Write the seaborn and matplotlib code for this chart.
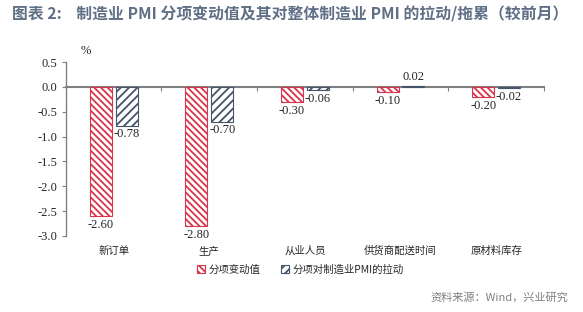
import matplotlib
matplotlib.use("Agg")
import matplotlib.pyplot as plt
import seaborn as sns
import pandas as pd
from matplotlib.patches import Patch

categories = ["新订单", "生产", "从业人员", "供货商配送时间", "原材料库存"]
series_names = ["分项变动值", "分项对制造业PMI的拉动"]
change_values = [-2.60, -2.80, -0.30, -0.10, -0.20]
pull_values = [-0.78, -0.70, -0.06, 0.02, -0.02]
yticks = [0.5, 0.0, -0.5, -1.0, -1.5, -2.0, -2.5, -3.0]

sns.set_theme(style="white")
plt.rcParams["font.family"] = ["Noto Sans CJK SC", "DejaVu Sans"]
plt.rcParams["hatch.linewidth"] = 1.3

df = pd.DataFrame({
    "cat": categories * 2,
    "series": [series_names[0]] * len(categories) + [series_names[1]] * len(categories),
    "value": change_values + pull_values,
})

red = "#d8344c"
blue = "#44546a"
hatches = ["\\\\\\\\\\", "////"]
colors = [red, blue]

fig = plt.figure(figsize=(5.83, 3.12), dpi=100)
ax = fig.add_axes([0.113, 0.244, 0.82, 0.557])

sns.barplot(data=df, x="cat", y="value", hue="series", order=categories,
            hue_order=series_names, palette=["white", "white"], width=0.54,
            gap=0.15, ax=ax, legend=False, errorbar=None, saturation=1)

for i, cont in enumerate(ax.containers):
    for p in cont:
        p.set_hatch(hatches[i])
        p.set_edgecolor(colors[i])
        p.set_linewidth(0.8)
    ax.bar_label(cont, fmt="%.2f", padding=2, fontsize=9,
                 family=["Liberation Serif"])

ax.set_ylim(-3.0, 0.5)
ax.set_xlim(-0.5, len(categories) - 0.5)
ax.set_yticks(yticks)
ax.set_yticklabels([f"{v:.1f}" for v in yticks], family=["Liberation Serif"], fontsize=9)
ax.set_xlabel("")
ax.set_ylabel("")

for s in ["top", "right", "bottom"]:
    ax.spines[s].set_visible(False)
ax.spines["left"].set_color("#808080")
ax.spines["left"].set_linewidth(1)
ax.tick_params(axis="y", direction="out", length=3, width=0.8, color="#808080",
               pad=3, left=True)
ax.tick_params(axis="x", length=0, pad=7)
for lab in ax.get_xticklabels():
    lab.set_fontsize(7.5)

# zero line with category boundary ticks
sec = ax.secondary_xaxis(0, transform=ax.transData)
sec.spines["bottom"].set_color("#7f7f7f")
sec.spines["bottom"].set_linewidth(1.5)
sec.set_xticks([i + 0.5 for i in range(len(categories))])
sec.set_xticklabels([])
sec.tick_params(axis="x", direction="out", length=3, width=0.8, color="#7f7f7f")

ax.text(0.03, 1.03, "%", transform=ax.transAxes, fontsize=9,
        family=["Liberation Serif"], ha="left", va="bottom")

handles = [Patch(facecolor="white", edgecolor=colors[i], hatch=hatches[i], lw=0.8)
           for i in range(2)]
fig.legend(handles, series_names, loc="center", bbox_to_anchor=(0.515, 0.135),
           ncol=2, frameon=False, fontsize=7.5, handlelength=0.8,
           handleheight=0.8, handletextpad=0.3, columnspacing=2.0)

fig.text(0.02, 0.955, "图表 2:    制造业 PMI 分项变动值及其对整体制造业 PMI 的拉动/拖累（较前月）",
         fontsize=11.4, fontweight="bold", color="#5f6f86", ha="left", va="center")
fig.text(0.975, 0.045, "资料来源：Wind，兴业研究", fontsize=8, color="#7f7f7f",
         ha="right", va="center")

fig.savefig("out.png", dpi=100)
